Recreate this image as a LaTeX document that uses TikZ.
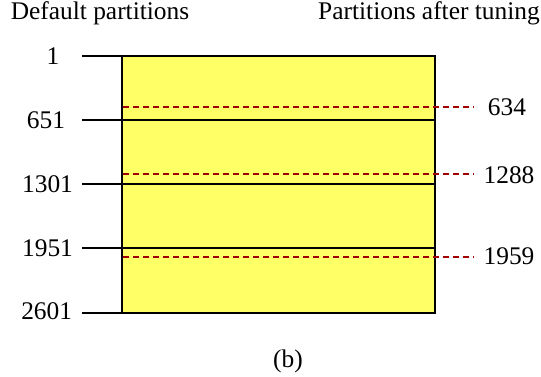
\documentclass[tikz,border=0pt]{standalone}
\usepackage{fontspec}
\setmainfont{Liberation Serif}
\definecolor{boxyellow}{HTML}{FFFF66}
\definecolor{dashred}{HTML}{A00000}
\begin{document}
\begin{tikzpicture}[x=1bp,y=-1bp,
  lbl/.style={font=\fontsize{25.5}{28}\selectfont, inner sep=0pt},
  solidline/.style={line width=2bp, black},
  tunedline/.style={line width=2bp, dashred, dash pattern=on 6bp off 4bp}]
\useasboundingbox (0,0) rectangle (541,376);
% main box
\draw[solidline, fill=boxyellow] (122,56) rectangle (435,313);
% default partition lines
\foreach \name/\y in {p1/56, p651/120, p1301/184, p1951/248, p2601/313}{
  \coordinate (\name L) at (82,\y);
  \coordinate (\name B) at (122,\y);
  \coordinate (\name R) at (435,\y);
  \draw[solidline] (\name L) -- (\name B);
}
\draw[solidline] (p651B) -- (p651R);
\draw[solidline] (p1301B) -- (p1301R);
\draw[solidline] (p1951B) -- (p1951R);
% tuned partition lines
\foreach \name/\y in {t634/107, t1288/174, t1959/257}{
  \coordinate (\name B) at (123,\y);
  \coordinate (\name E) at (474,\y);
  \draw[tunedline] (\name B) -- (\name E);
}
% labels
\node[lbl] (l1) at (53,56) {1};
\node[lbl] (l651) at (46,120) {651};
\node[lbl] (l1301) at (47.5,184) {1301};
\node[lbl] (l1951) at (47.5,248) {1951};
\node[lbl] (l2601) at (46.7,311) {2601};
\node[lbl] (r634) at (507,107.5) {634};
\node[lbl] (r1288) at (509,175) {1288};
\node[lbl] (r1959) at (509,256) {1959};
\node[lbl] (tleft) at (100,13) {Default partitions};
\node[lbl] (tright) at (429,13) {Partitions after tuning};
\node[lbl] (cap) at (288,361) {(b)};
\end{tikzpicture}
\end{document}
